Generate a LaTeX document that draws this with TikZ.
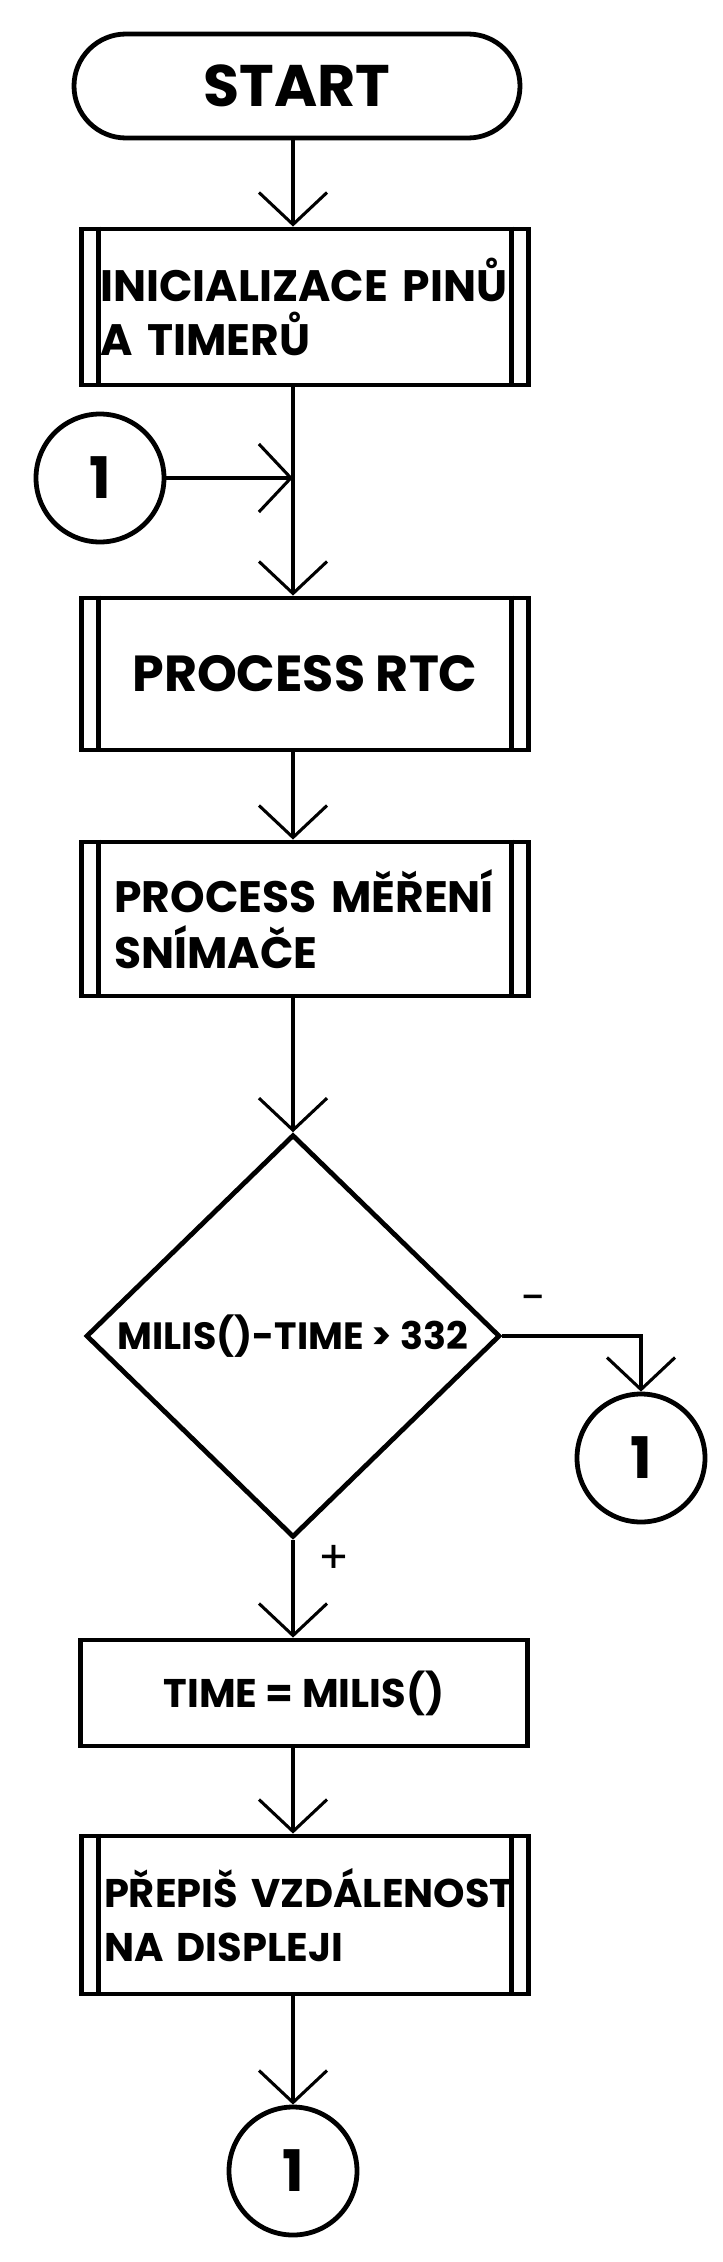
\documentclass[tikz,border=0pt]{standalone}
\usepackage{fontspec}
\setmainfont{Poppins}
\usetikzlibrary{arrows.meta,shapes.geometric}

\begin{document}
\begin{tikzpicture}[x=0.75pt,y=0.75pt,yscale=-1,xscale=1,
	outline/.style={draw,line width=3.6pt,inner sep=0pt},
	procbox/.style={outline,rectangle,minimum width=335.5pt},
	sidebar/.style={line width=3.6pt},
	conn/.style={outline,circle,minimum size=96pt,font=\bfseries\fontsize{43}{43}\selectfont},
	flow/.style={line width=2.3pt,-{Straight Barb[length=24pt,width=51pt]}},
	sign/.style={inner sep=0pt,font=\fontsize{34}{34}\selectfont}
]
	\useasboundingbox (0,0) rectangle (723,2262);
	%the line that the arrows run down
	\coordinate (axis) at (293,0);
	
	%Shape: Terminal
	\node (start) [outline,rounded corners=39pt,minimum width=334.5pt,minimum height=78pt,font=\bfseries\fontsize{44}{44}\selectfont] at (297,86) {START};
	%Shape: Predefined Process
	\node (init) [procbox,minimum height=117pt,text width=307pt,inner xsep=14.25pt,align=left,font=\bfseries\fontsize{33}{40}\selectfont] at (305,307) {\mbox{INICIALIZACE PINŮ}\\A TIMERŮ};
	%Shape: Connector
	\node (jumpA) [conn] at (100,478) {1};
	%Shape: Predefined Process
	\node (rtc) [procbox,minimum height=114pt,font=\bfseries\fontsize{38}{38}\selectfont] at (305,674) {PROCESS RTC};
	%Shape: Predefined Process
	\node (measure) [procbox,minimum height=115.5pt,text width=286pt,inner xsep=24.75pt,align=left,font=\bfseries\fontsize{33}{42}\selectfont] at (305,919) {\mbox{PROCESS MĚŘENÍ}\\SNÍMAČE};
	%Shape: Decision
	\node (decide) [outline,diamond,minimum width=310.5pt,minimum height=302pt,font=\bfseries\fontsize{28.5}{28.5}\selectfont] at (293,1336) {MILIS()-TIME > 332};
	%Shape: Connector
	\node (jumpB) [conn] at (641,1458) {1};
	%Shape: Process
	\node (settime) [procbox,minimum height=79.5pt,font=\bfseries\fontsize{30}{30}\selectfont] at (304,1693) {TIME = MILIS()};
	%Shape: Predefined Process
	\node (display) [procbox,minimum height=118.5pt,text width=301.5pt,inner xsep=17pt,align=left,font=\bfseries\fontsize{30}{40}\selectfont] at (305,1915) {\mbox{PŘEPIŠ VZDÁLENOST}\\NA DISPLEJI};
	%Shape: Connector
	\node (jumpC) [conn] at (293,2171) {1};
	
	%side bars of the predefined processes
	\foreach \b in {init,rtc,measure,display}{
		\draw[sidebar] ([xshift=14.5pt]\b.north west) -- ([xshift=14.5pt]\b.south west);
		\draw[sidebar] ([xshift=-14.5pt]\b.north east) -- ([xshift=-14.5pt]\b.south east);
	}
	
	% Text Node
	\node (minus) [sign] at (534,1304) {-};
	% Text Node
	\node (plus) [sign] at (334,1559) {+};
	
	%Straight Lines
	\draw[flow] (start.south -| axis) -- (init.north -| axis);
	\draw[flow] (init.south -| axis) -- (rtc.north -| axis);
	\draw[flow] (jumpA.east) -- (jumpA.east -| axis);
	\draw[flow] (rtc.south -| axis) -- (measure.north -| axis);
	\draw[flow] (measure.south -| axis) -- (decide.north);
	\draw[flow] (decide.south) -- (settime.north -| axis);
	\draw[flow] (decide.east) -| (jumpB.north);
	\draw[flow] (settime.south -| axis) -- (display.north -| axis);
	\draw[flow] (display.south -| axis) -- (jumpC.north);
	
\end{tikzpicture}
\end{document}
